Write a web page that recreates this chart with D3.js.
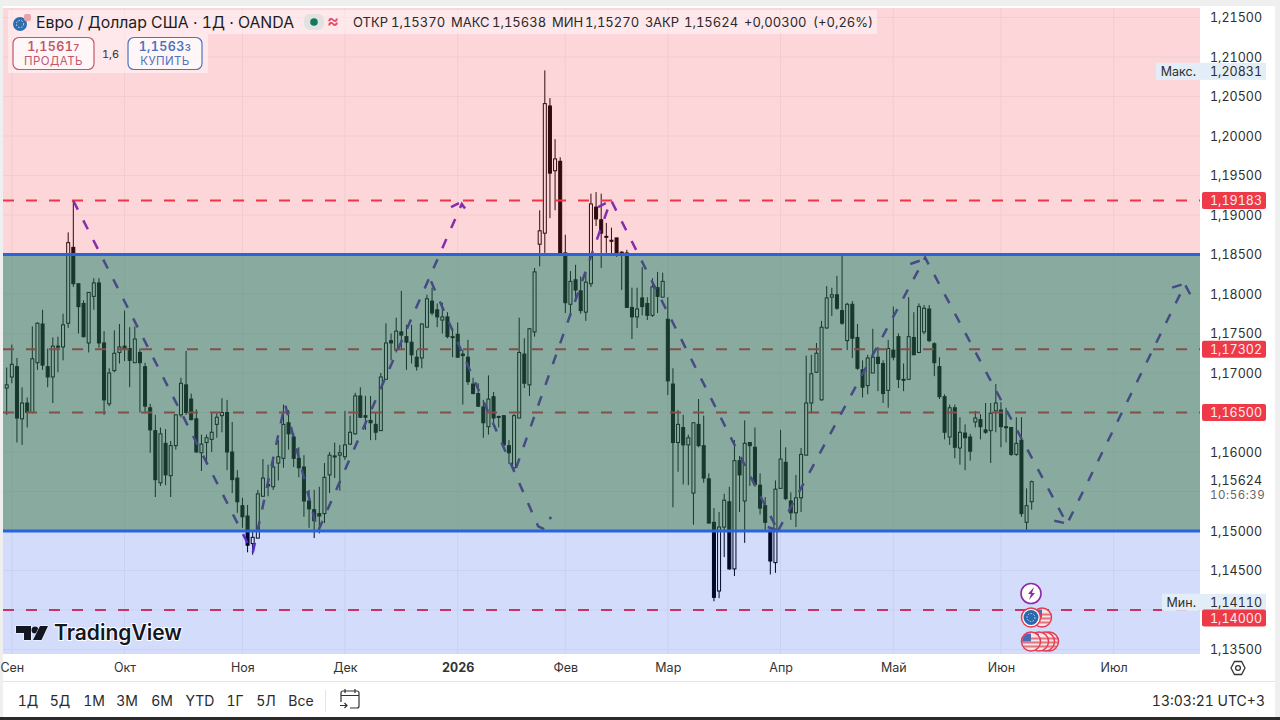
<!DOCTYPE html>
<html>
<head>
<meta charset="utf-8">
<title>EURUSD 1D</title>
<script src="https://cdn.jsdelivr.net/npm/d3@7"></script>
<style>
  html, body { margin: 0; padding: 0; background: #efefef; overflow: hidden; }
  svg { display: block; }
  text { font-family: Inter, "Noto Sans", sans-serif; font-variant-numeric: tabular-nums; }
</style>
</head>
<body>
<svg id="chart" width="1280" height="720"></svg>
<script>
// one value per trading day, oldest first
const opens = [
  1.1681, 1.1695, 1.1708, 1.1642, 1.1662, 1.1650, 1.1713, 1.1762, 1.1708, 1.1695,
  1.1734, 1.1733, 1.1763, 1.1859, 1.1813, 1.1788, 1.1738, 1.1797, 1.1814, 1.1738,
  1.1661, 1.1703, 1.1726, 1.1734, 1.1731, 1.1713, 1.1726, 1.1708, 1.1656, 1.1627,
  1.1561, 1.1611, 1.1570, 1.1608, 1.1647, 1.1685, 1.1667, 1.1642, 1.1599, 1.1612,
  1.1616, 1.1635, 1.1646, 1.1650, 1.1600, 1.1567, 1.1532, 1.1519, 1.1484, 1.1491,
  1.1544, 1.1559, 1.1556, 1.1586, 1.1592, 1.1637, 1.1619, 1.1592, 1.1581, 1.1538,
  1.1527, 1.1522, 1.1522, 1.1571, 1.1595, 1.1596, 1.1594, 1.1610, 1.1623, 1.1671,
  1.1646, 1.1640, 1.1635, 1.1627, 1.1692, 1.1741, 1.1729, 1.1752, 1.1746, 1.1739,
  1.1720, 1.1719, 1.1758, 1.1791, 1.1780, 1.1767, 1.1771, 1.1746, 1.1749, 1.1724,
  1.1720, 1.1686, 1.1674, 1.1657, 1.1632, 1.1670, 1.1645, 1.1646, 1.1608, 1.1580,
  1.1643, 1.1724, 1.1685, 1.1752, 1.1863, 1.1877, 1.2038, 1.1956, 1.1968, 1.1852,
  1.1787, 1.1818, 1.1804, 1.1777, 1.1813, 1.1910, 1.1894, 1.1873, 1.1868, 1.1871,
  1.1853, 1.1852, 1.1783, 1.1771, 1.1795, 1.1788, 1.1773, 1.1808, 1.1796, 1.1768,
  1.1686, 1.1612, 1.1631, 1.1609, 1.1548, 1.1635, 1.1608, 1.1566, 1.1511, 1.1424,
  1.1505, 1.1537, 1.1452, 1.1589, 1.1538, 1.1612, 1.1606, 1.1558, 1.1532, 1.1501,
  1.1460, 1.1554, 1.1587, 1.1538, 1.1523, 1.1542, 1.1596, 1.1662, 1.1701, 1.1666,
  1.1757, 1.1796, 1.1799, 1.1779, 1.1741, 1.1787, 1.1745, 1.1704, 1.1684, 1.1700,
  1.1720, 1.1712, 1.1678, 1.1729, 1.1746, 1.1692, 1.1692, 1.1745, 1.1726, 1.1752,
  1.1781, 1.1737, 1.1708, 1.1670, 1.1619, 1.1656, 1.1605, 1.1624, 1.1619, 1.1638,
  1.1641, 1.1628, 1.1627, 1.1652, 1.1653, 1.1632, 1.1631, 1.1597, 1.1615, 1.1511,
  1.15370
];
const highs = [
  1.1707, 1.1736, 1.1719, 1.1682, 1.1669, 1.1759, 1.1764, 1.1780, 1.1731, 1.1745,
  1.1746, 1.1775, 1.1878, 1.1918, 1.1813, 1.1792, 1.1802, 1.1820, 1.1820, 1.1753,
  1.1706, 1.1754, 1.1762, 1.1779, 1.1758, 1.1759, 1.1731, 1.1713, 1.1661, 1.1647,
  1.1631, 1.1629, 1.1614, 1.1647, 1.1694, 1.1728, 1.1674, 1.1654, 1.1622, 1.1622,
  1.1649, 1.1649, 1.1668, 1.1666, 1.1638, 1.1577, 1.1542, 1.1533, 1.1501, 1.1552,
  1.1591, 1.1584, 1.1594, 1.1615, 1.1660, 1.1653, 1.1624, 1.1606, 1.1596, 1.1552,
  1.1552, 1.1556, 1.1586, 1.1600, 1.1612, 1.1609, 1.1652, 1.1646, 1.1675, 1.1682,
  1.1671, 1.1671, 1.1650, 1.1700, 1.1763, 1.1750, 1.1770, 1.1804, 1.1761, 1.1761,
  1.1729, 1.1763, 1.1799, 1.1808, 1.1788, 1.1789, 1.1777, 1.1757, 1.1764, 1.1729,
  1.1742, 1.1694, 1.1687, 1.1666, 1.1697, 1.1676, 1.1646, 1.1646, 1.1615, 1.1648,
  1.1770, 1.1744, 1.1757, 1.1833, 1.1906, 1.2083, 1.2048, 1.1996, 1.1973, 1.1875,
  1.1829, 1.1837, 1.1822, 1.1827, 1.1927, 1.1929, 1.1927, 1.1890, 1.1884, 1.1871,
  1.1854, 1.1856, 1.1808, 1.1808, 1.1834, 1.1796, 1.1820, 1.1828, 1.1827, 1.1796,
  1.1706, 1.1653, 1.1647, 1.1622, 1.1637, 1.1667, 1.1646, 1.1573, 1.1529, 1.1524,
  1.1547, 1.1556, 1.1615, 1.1595, 1.1640, 1.1612, 1.1631, 1.1573, 1.1543, 1.1501,
  1.1564, 1.1628, 1.1606, 1.1549, 1.1571, 1.1605, 1.1722, 1.1723, 1.1738, 1.1766,
  1.1810, 1.1808, 1.1823, 1.1848, 1.1789, 1.1791, 1.1762, 1.1716, 1.1723, 1.1756,
  1.1733, 1.1716, 1.1742, 1.1784, 1.1750, 1.1712, 1.1796, 1.1777, 1.1788, 1.1786,
  1.1786, 1.1739, 1.1720, 1.1673, 1.1660, 1.1660, 1.1644, 1.1635, 1.1623, 1.1652,
  1.1648, 1.1662, 1.1662, 1.1686, 1.1663, 1.1656, 1.1631, 1.1644, 1.1644, 1.1554,
  1.15638
];
const lows = [
  1.1647, 1.1687, 1.1612, 1.1609, 1.1631, 1.1649, 1.1704, 1.1704, 1.1682, 1.1662,
  1.1701, 1.1716, 1.1757, 1.1809, 1.1750, 1.1745, 1.1726, 1.1780, 1.1732, 1.1647,
  1.1658, 1.1701, 1.1712, 1.1715, 1.1682, 1.1713, 1.1650, 1.1649, 1.1599, 1.1543,
  1.1557, 1.1558, 1.1543, 1.1603, 1.1644, 1.1647, 1.1640, 1.1599, 1.1576, 1.1586,
  1.1600, 1.1618, 1.1625, 1.1577, 1.1548, 1.1523, 1.1504, 1.1473, 1.1470, 1.1491,
  1.1543, 1.1544, 1.1552, 1.1564, 1.1580, 1.1603, 1.1581, 1.1568, 1.1518, 1.1504,
  1.1491, 1.1497, 1.1510, 1.1548, 1.1567, 1.1551, 1.1590, 1.1609, 1.1622, 1.1643,
  1.1628, 1.1615, 1.1615, 1.1627, 1.1692, 1.1716, 1.1726, 1.1729, 1.1704, 1.1712,
  1.1703, 1.1706, 1.1758, 1.1773, 1.1758, 1.1750, 1.1744, 1.1720, 1.1719, 1.1660,
  1.1685, 1.1673, 1.1657, 1.1618, 1.1622, 1.1632, 1.1631, 1.1606, 1.1585, 1.1578,
  1.1643, 1.1681, 1.1671, 1.1746, 1.1835, 1.1852, 1.1896, 1.1906, 1.1852, 1.1776,
  1.1776, 1.1792, 1.1775, 1.1766, 1.1809, 1.1886, 1.1833, 1.1852, 1.1851, 1.1847,
  1.1805, 1.1783, 1.1743, 1.1757, 1.1773, 1.1767, 1.1771, 1.1776, 1.1796, 1.1672,
  1.1530, 1.1575, 1.1559, 1.1558, 1.1508, 1.1606, 1.1561, 1.1510, 1.1411, 1.1415,
  1.1467, 1.1451, 1.1443, 1.1524, 1.1485, 1.1557, 1.1556, 1.1521, 1.1501, 1.1445,
  1.1447, 1.1554, 1.1539, 1.1514, 1.1505, 1.1524, 1.1596, 1.1649, 1.1700, 1.1665,
  1.1756, 1.1772, 1.1780, 1.1761, 1.1729, 1.1719, 1.1704, 1.1669, 1.1673, 1.1700,
  1.1677, 1.1662, 1.1656, 1.1716, 1.1681, 1.1677, 1.1692, 1.1723, 1.1725, 1.1749,
  1.1739, 1.1696, 1.1667, 1.1616, 1.1609, 1.1592, 1.1584, 1.1577, 1.1589, 1.1631,
  1.1616, 1.1623, 1.1586, 1.1625, 1.1606, 1.1612, 1.1595, 1.1595, 1.1518, 1.1500,
  1.15270
];
const closes = [
  1.1685, 1.1711, 1.1643, 1.1662, 1.1650, 1.1718, 1.1763, 1.1710, 1.1695, 1.1734,
  1.1733, 1.1761, 1.1865, 1.1813, 1.1784, 1.1746, 1.1802, 1.1814, 1.1738, 1.1666,
  1.1700, 1.1725, 1.1733, 1.1731, 1.1716, 1.1743, 1.1713, 1.1658, 1.1628, 1.1565,
  1.1623, 1.1571, 1.1608, 1.1647, 1.1687, 1.1650, 1.1641, 1.1600, 1.1610, 1.1618,
  1.1625, 1.1644, 1.1650, 1.1600, 1.1565, 1.1537, 1.1518, 1.1482, 1.1492, 1.1547,
  1.1567, 1.1557, 1.1581, 1.1594, 1.1635, 1.1623, 1.1592, 1.1580, 1.1538, 1.1528,
  1.1513, 1.1519, 1.1568, 1.1596, 1.1594, 1.1599, 1.1609, 1.1625, 1.1671, 1.1644,
  1.1644, 1.1637, 1.1625, 1.1695, 1.1738, 1.1738, 1.1753, 1.1748, 1.1739, 1.1723,
  1.1708, 1.1762, 1.1794, 1.1776, 1.1771, 1.1771, 1.1746, 1.1745, 1.1720, 1.1722,
  1.1689, 1.1674, 1.1658, 1.1637, 1.1667, 1.1643, 1.1644, 1.1609, 1.1599, 1.1646,
  1.1726, 1.1687, 1.1756, 1.1828, 1.1880, 1.2041, 1.1953, 1.1971, 1.1852, 1.1789,
  1.1816, 1.1805, 1.1779, 1.1815, 1.1914, 1.1895, 1.1877, 1.1872, 1.1867, 1.1852,
  1.1852, 1.1783, 1.1771, 1.1781, 1.1784, 1.1773, 1.1809, 1.1797, 1.1816, 1.1690,
  1.1612, 1.1635, 1.1609, 1.1618, 1.1637, 1.1608, 1.1567, 1.1510, 1.1416, 1.1505,
  1.1539, 1.1452, 1.1589, 1.1571, 1.1611, 1.1608, 1.1559, 1.1529, 1.1511, 1.1462,
  1.1553, 1.1591, 1.1541, 1.1523, 1.1542, 1.1597, 1.1662, 1.1699, 1.1725, 1.1758,
  1.1795, 1.1799, 1.1782, 1.1763, 1.1787, 1.1744, 1.1706, 1.1682, 1.1719, 1.1720,
  1.1712, 1.1674, 1.1731, 1.1720, 1.1692, 1.1691, 1.1746, 1.1723, 1.1784, 1.1782,
  1.1741, 1.1713, 1.1670, 1.1625, 1.1656, 1.1606, 1.1625, 1.1618, 1.1601, 1.1643,
  1.1632, 1.1625, 1.1649, 1.1662, 1.1632, 1.1631, 1.1597, 1.1611, 1.1522, 1.1532,
  1.15624
];

// axis labels
const priceTicks = [1.215, 1.21, 1.205, 1.2, 1.195, 1.19, 1.185, 1.18, 1.175, 1.17, 1.16, 1.15, 1.145, 1.135];
const gridPrices = [1.215, 1.21, 1.205, 1.2, 1.195, 1.19, 1.185, 1.18, 1.175, 1.17, 1.165, 1.16, 1.155, 1.15, 1.145, 1.14, 1.135];
const monthBars = [1, 23, 46, 66, 88, 109, 129, 151, 173, 194, 216];
const monthLabels = ["Сен", "Окт", "Ноя", "Дек", "2026", "Фев", "Мар", "Апр", "Май", "Июн", "Июл"];
const rangeLabels = ["1Д", "5Д", "1М", "3М", "6М", "YTD", "1Г", "5Л", "Все"];
const rangeCenters = [28, 60, 94, 127, 162, 200, 235, 266, 301];

// drawn levels
const redLevels = [1.19183, 1.17302, 1.165, 1.14];
const blueLevels = [1.185, 1.15];

// dashed forecast paths: [bar number, price]
const wavePaths = [
  [[13, 1.1918], [48, 1.1472], [54.3, 1.1661], [60.7, 1.1499], [88.8, 1.1914], [90.2, 1.1901]],
  [[86.7, 1.1910], [88.25, 1.1915]],
  [[82.8, 1.1816], [103.7, 1.1506], [105, 1.1502], [106.2, 1.1518]],
  [[99.4, 1.1580], [117.9, 1.1919], [150.5, 1.1500]],
  [[115.4, 1.1910], [116.9, 1.1915]],
  [[148.5, 1.1505], [150.3, 1.1501]],
  [[150.5, 1.1500], [179.2, 1.1846], [206.9, 1.1509], [229.9, 1.1812], [231.3, 1.1795]],
  [[176.3, 1.1838], [178.6, 1.1843]],
  [[204.4, 1.1513], [206.5, 1.1510]],
  [[227.4, 1.1808], [229.3, 1.1812]]
];

const plot = { left: 3, right: 1200, top: 8, bottom: 654 };
const svg = d3.select("#chart");

const x = d3.scaleLinear().domain([-0.72, 232.84]).range([plot.left, plot.right]);
const y = d3.scaleLinear().domain([1.135, 1.215]).range([649.5, 17.5]);
const comma = d3.format(".5f");
const priceText = v => comma(v).replace(".", ",");

// page frame
svg.append("rect").attr("x", 3).attr("y", 6).attr("width", 1272).attr("height", 711).attr("fill", "#fff");
svg.append("rect").attr("x", 0).attr("y", 717).attr("width", 1280).attr("height", 3).attr("fill", "#2b2b2b");

svg.append("clipPath").attr("id", "plotClip").append("rect")
  .attr("x", plot.left).attr("y", plot.top)
  .attr("width", plot.right - plot.left).attr("height", plot.bottom - plot.top);
const chart = svg.append("g").attr("clip-path", "url(#plotClip)");

// grid
chart.selectAll("line.hgrid").data(gridPrices).enter().append("line")
  .attr("class", "hgrid")
  .attr("x1", plot.left).attr("x2", plot.right)
  .attr("y1", d => y(d)).attr("y2", d => y(d))
  .attr("stroke", "#f3f3f3").attr("stroke-width", 1);
chart.selectAll("line.vgrid").data(monthBars).enter().append("line")
  .attr("class", "vgrid")
  .attr("y1", plot.top).attr("y2", plot.bottom)
  .attr("x1", d => x(d)).attr("x2", d => x(d))
  .attr("stroke", "#f3f3f3").attr("stroke-width", 1);

// candles
const bars = d3.range(opens.length);
const candle = chart.selectAll("g.candle").data(bars).enter().append("g").attr("class", "candle");
candle.append("line")
  .attr("x1", i => x(i)).attr("x2", i => x(i))
  .attr("y1", i => y(highs[i])).attr("y2", i => y(lows[i]))
  .attr("stroke", "#000").attr("stroke-width", 1);
candle.append("rect")
  .attr("x", i => x(i) - 1.5)
  .attr("width", 3)
  .attr("y", i => y(Math.max(opens[i], closes[i])))
  .attr("height", i => Math.max(1, Math.abs(y(opens[i]) - y(closes[i]))))
  .attr("fill", i => closes[i] >= opens[i] ? "#fff" : "#000")
  .attr("stroke", "#000").attr("stroke-width", 1);

// red levels and forecast dashes sit under the colour zones
chart.selectAll("line.red").data(redLevels).enter().append("line")
  .attr("class", "red")
  .attr("x1", plot.left).attr("x2", plot.right)
  .attr("y1", d => y(d)).attr("y2", d => y(d))
  .attr("stroke", "#f23645").attr("stroke-width", 2)
  .attr("stroke-dasharray", "11,12");

const waveLine = d3.line().x(d => x(d[0])).y(d => y(d[1]));
chart.selectAll("path.wave").data(wavePaths).enter().append("path")
  .attr("class", "wave")
  .attr("d", waveLine)
  .attr("fill", "none")
  .attr("stroke", "#6a2cc8").attr("stroke-width", 2.5)
  .attr("stroke-dasharray", "10,12");

// colour zones
chart.append("rect")
  .attr("x", plot.left).attr("width", plot.right - plot.left)
  .attr("y", plot.top).attr("height", y(1.185) - plot.top)
  .attr("fill", "rgb(245,50,70)").attr("fill-opacity", 0.2);
chart.append("rect")
  .attr("x", plot.left).attr("width", plot.right - plot.left)
  .attr("y", y(1.185)).attr("height", y(1.15) - y(1.185))
  .attr("fill", "rgb(40,100,78)").attr("fill-opacity", 0.55);
chart.append("rect")
  .attr("x", plot.left).attr("width", plot.right - plot.left)
  .attr("y", y(1.15)).attr("height", plot.bottom - y(1.15))
  .attr("fill", "rgb(0,50,235)").attr("fill-opacity", 0.17);

chart.selectAll("line.blue").data(blueLevels).enter().append("line")
  .attr("class", "blue")
  .attr("x1", plot.left).attr("x2", plot.right)
  .attr("y1", d => y(d)).attr("y2", d => y(d))
  .attr("stroke", "#2a64dc").attr("stroke-width", 3);

// price axis
const yAxis = svg.append("g")
  .attr("transform", "translate(1210,0)")
  .call(d3.axisRight(y).tickValues(priceTicks).tickSize(0).tickPadding(0).tickFormat(priceText));
yAxis.select(".domain").remove();
yAxis.selectAll("text")
  .style("font-family", "Inter, sans-serif").style("font-size", "12.5px")
  .attr("fill", "#2e2e2e");

// price tags on the axis
function infoTag(label, v, left) {
  svg.append("rect").attr("x", left).attr("y", y(v) - 7.5).attr("width", 1266 - left).attr("height", 17)
    .attr("fill", "#e3edf8");
  svg.append("text").attr("x", 1196).attr("y", y(v) + 5.5).attr("text-anchor", "end")
    .attr("font-size", 12.5).attr("fill", "#2e2e2e").text(label);
  svg.append("text").attr("x", 1210).attr("y", y(v) + 5.5)
    .attr("font-size", 12.5).attr("fill", "#2e2e2e").text(priceText(v));
}
infoTag("Макс.", 1.20831, 1156);
infoTag("Мин.", 1.1411, 1162);

// the 1,14000 tag is pushed down below the Мин. tag
function redTag(v) {
  const shift = v === 1.14 ? 8 : 0;
  svg.append("rect").attr("x", 1202).attr("y", y(v) + shift - 8.5).attr("width", 64).attr("height", 17)
    .attr("rx", 2).attr("fill", "#ee3a48");
  svg.append("text").attr("x", 1210).attr("y", y(v) + shift + 4.5)
    .attr("font-size", 12.5).attr("fill", "#ffe9ea").text(priceText(v));
}
redLevels.forEach(redTag);

svg.append("text").attr("x", 1210).attr("y", y(closes[closes.length - 1]) + 3.5)
  .attr("font-size", 12.5).attr("fill", "#2e2e2e").text(priceText(closes[closes.length - 1]));
svg.append("text").attr("x", 1210).attr("y", 498.5)
  .attr("font-size", 11.5).attr("letter-spacing", 0.55).attr("fill", "#666").text("10:56:39");

// time axis
const xAxis = svg.append("g")
  .attr("transform", "translate(0,654)")
  .call(d3.axisBottom(x).tickValues(monthBars).tickSize(0).tickPadding(0)
    .tickFormat((d, i) => monthLabels[i]));
xAxis.select(".domain").remove();
xAxis.selectAll("text")
  .style("font-family", "Inter, sans-serif").style("font-size", "12.5px")
  .attr("fill", "#333").attr("dy", "18px")
  .style("font-weight", (d, i) => monthLabels[i] === "2026" ? 700 : 400);

// legend strip
svg.append("rect").attr("x", 8).attr("y", 10).attr("width", 869).attr("height", 24)
  .attr("fill", "#fff").attr("fill-opacity", 0.45);
svg.append("rect").attr("x", 8).attr("y", 34).attr("width", 200).attr("height", 39)
  .attr("fill", "#fff").attr("fill-opacity", 0.45);

// pair icon
svg.append("circle").attr("cx", 20).attr("cy", 24).attr("r", 7).attr("fill", "#2f6cae");
svg.append("circle").attr("cx", 20).attr("cy", 24).attr("r", 3.6).attr("fill", "none")
  .attr("stroke", "#cfe0f2").attr("stroke-dasharray", "1.5,1.5");
svg.append("rect").attr("x", 24).attr("y", 14).attr("width", 7).attr("height", 7).attr("rx", 2).attr("fill", "#e8a3a8");

svg.append("text").attr("x", 36).attr("y", 27.5).attr("font-size", 15.8).attr("fill", "#1c1c1c")
  .text("Евро / Доллар США · 1Д · OANDA");

svg.append("rect").attr("x", 304).attr("y", 14).attr("width", 20).attr("height", 16).attr("rx", 6).attr("fill", "#e2e2e0");
svg.append("circle").attr("cx", 314).attr("cy", 22).attr("r", 3.8).attr("fill", "#0f7a5d");
svg.append("text").attr("x", 333).attr("y", 27).attr("text-anchor", "middle").attr("font-size", 18)
  .attr("font-weight", 600).attr("fill", "#e0506a").text("≈");

const legendText = [
  [353, "ОТКР"], [391, "1,15370"], [451, "МАКС"], [492, "1,15638"],
  [552, "МИН"], [585, "1,15270"], [645, "ЗАКР"], [684, "1,15624"], [744, "+0,00300"], [813, "(+0,26%)"]
];
svg.selectAll("text.legend").data(legendText).enter().append("text")
  .attr("class", "legend")
  .attr("x", d => d[0]).attr("y", 26.5)
  .attr("font-size", 13).attr("fill", "#2a2a2a")
  .text(d => d[1]);

// the last digit of a quote is set small
function tradeButton(left, width, color, price, label) {
  svg.append("rect").attr("x", left).attr("y", 37.5).attr("width", width).attr("height", 32)
    .attr("rx", 6).attr("fill", "#fff").attr("fill-opacity", 0.6)
    .attr("stroke", color).attr("stroke-width", 1.2);
  const quote = svg.append("text").attr("x", left + width / 2).attr("y", 51).attr("text-anchor", "middle")
    .attr("font-size", 12.5).attr("font-weight", 600).attr("letter-spacing", 0.4).attr("fill", color);
  quote.append("tspan").text(price.slice(0, -1));
  quote.append("tspan").attr("font-size", 9.5).text(price.slice(-1));
  svg.append("text").attr("x", left + width / 2).attr("y", 64.5).attr("text-anchor", "middle")
    .attr("font-size", 11.5).attr("letter-spacing", 0.4).attr("fill", color).text(label);
}
tradeButton(13, 81, "#c4566a", "1,15617", "ПРОДАТЬ");
tradeButton(128, 74, "#4d73bd", "1,15633", "КУПИТЬ");
svg.append("text").attr("x", 110.5).attr("y", 58).attr("text-anchor", "middle")
  .attr("font-size", 11).attr("fill", "#333").text("1,6");

// TradingView mark
const logo = svg.append("g").attr("fill", "#131722")
  .attr("stroke", "#fff").attr("stroke-width", 1).attr("paint-order", "stroke");
logo.append("path").attr("d", "M16 626h15v14h-7v-7h-8z");
logo.append("circle").attr("cx", 35).attr("cy", 630).attr("r", 3.5);
logo.append("path").attr("d", "M40 626h8l-6.5 14h-8.5z");
svg.append("text").attr("x", 54).attr("y", 640).attr("font-size", 21).attr("font-weight", 600)
  .attr("fill", "#131722").attr("stroke", "#fff").attr("stroke-width", 2).attr("paint-order", "stroke")
  .text("TradingView");

// event markers
const defs = svg.append("defs");
function flagBadge(cx, cy, id) {
  defs.append("clipPath").attr("id", id).append("circle").attr("cx", cx).attr("cy", cy).attr("r", 9);
  const badge = svg.append("g");
  badge.append("circle").attr("cx", cx).attr("cy", cy).attr("r", 9.5).attr("fill", "#f7e4e7");
  const stripes = badge.append("g").attr("clip-path", `url(#${id})`);
  [-4, 0, 4].forEach(dy => {
    stripes.append("rect").attr("x", cx - 10).attr("y", cy + dy).attr("width", 20).attr("height", 2).attr("fill", "#e2747f");
  });
  stripes.append("rect").attr("x", cx - 10).attr("y", cy - 8).attr("width", 10).attr("height", 8).attr("fill", "#4a6cb8");
  badge.append("circle").attr("cx", cx).attr("cy", cy).attr("r", 9.5)
    .attr("fill", "none").attr("stroke", "#e33b52").attr("stroke-width", 1.5);
}
svg.append("circle").attr("cx", 1031).attr("cy", 593.5).attr("r", 10)
  .attr("fill", "#fff").attr("stroke", "#8e2aa8").attr("stroke-width", 1.6);
svg.append("path").attr("d", "M1034 587l-6 7h3l-2 6 6-7h-3z").attr("fill", "#8e2aa8");

flagBadge(1042, 617.5, "flagA");
svg.append("circle").attr("cx", 1031).attr("cy", 617.5).attr("r", 9.5)
  .attr("fill", "#fff").attr("stroke", "#e33b52").attr("stroke-width", 1.5);
svg.append("circle").attr("cx", 1031).attr("cy", 617.5).attr("r", 7.5).attr("fill", "#2c68ad");
svg.append("circle").attr("cx", 1031).attr("cy", 617.5).attr("r", 4).attr("fill", "none")
  .attr("stroke", "#cfe0f2").attr("stroke-dasharray", "1.5,1.5");
flagBadge(1049, 641.5, "flagB");
flagBadge(1045, 641.5, "flagC");
flagBadge(1039, 641.5, "flagD");
flagBadge(1031, 641.5, "flagE");

// settings glyph
svg.append("path").attr("d", "M1231 668l3.5-6.5h7l3.5 6.5-3.5 6.5h-7z")
  .attr("fill", "none").attr("stroke", "#333").attr("stroke-width", 1.3);
svg.append("circle").attr("cx", 1238).attr("cy", 668).attr("r", 2.4)
  .attr("fill", "none").attr("stroke", "#333").attr("stroke-width", 1.3);

// bottom bar
svg.append("line").attr("x1", 3).attr("x2", 1275).attr("y1", 681.5).attr("y2", 681.5).attr("stroke", "#e4e4e4");
svg.selectAll("text.range").data(rangeLabels).enter().append("text")
  .attr("class", "range")
  .attr("x", (d, i) => rangeCenters[i]).attr("y", 706)
  .attr("text-anchor", "middle").attr("font-size", 14).attr("fill", "#2a2a2a")
  .text(d => d);
svg.append("line").attr("x1", 325.5).attr("x2", 325.5).attr("y1", 690).attr("y2", 712).attr("stroke", "#e4e4e4");
svg.append("path")
  .attr("d", "M341 702v-9a2 2 0 0 1 2-2h14a2 2 0 0 1 2 2v13a2 2 0 0 1-2 2h-7M341 695.5h18M345 689v4M355 689v4M340 705.5h7M344.5 703l2.5 2.5-2.5 2.5")
  .attr("fill", "none").attr("stroke", "#333").attr("stroke-width", 1.2);
svg.append("text").attr("x", 1265).attr("y", 706).attr("text-anchor", "end")
  .attr("font-size", 14).attr("fill", "#2a2a2a").text("13:03:21 UTC+3");
</script>
</body>
</html>
